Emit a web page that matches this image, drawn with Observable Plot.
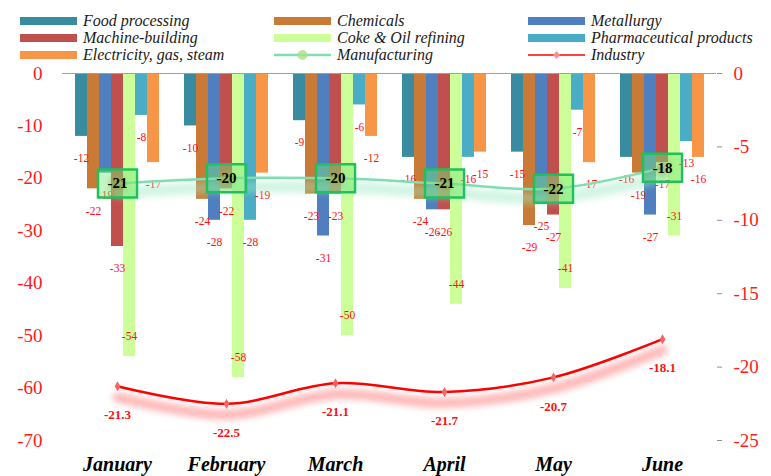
<!DOCTYPE html>
<html>
<head>
<meta charset="utf-8">
<script src="https://cdn.jsdelivr.net/npm/d3@7"></script>
<script src="https://cdn.jsdelivr.net/npm/@observablehq/plot@0.6"></script>
<style>
  body { margin: 0; background: #fff; }
  #wrap { position: relative; width: 771px; height: 476px; background: #fff; overflow: hidden; }
  .layer { position: absolute; left: 0; top: 62px; }
  .lg { position: absolute; height: 17px; display: flex; align-items: center; font-family: "Liberation Serif", serif; font-style: italic; font-size: 16px; color: #1a1a1a; white-space: nowrap; }
  .sw { width: 57px; height: 8px; margin-right: 6px; flex: none; }
</style>
</head>
<body>
<div id="wrap">
  <div id="legend"></div>
  <div id="p1" class="layer"></div>
  <div id="p2" class="layer"></div>
  <div id="p3" class="layer"></div>
</div>
<script>
// ---- data ----
const months = ["January", "February", "March", "April", "May", "June"];
const sectors = ["Food processing", "Chemicals", "Metallurgy", "Machine-building",
                 "Coke & Oil refining", "Pharmaceutical products", "Electricity, gas, steam"];
const sectorColors = ["#398ba0", "#c97a36", "#4f7fbf", "#c0504d", "#ccff99", "#4bacc6", "#f79646"];

const foodProcessing   = [-12, -10, -9, -16, -15, -16];
const chemicals        = [-22, -24, -23, -24, -29, -19];
const metallurgy       = [-19, -28, -31, -26, -25, -27];
const machineBuilding  = [-33, -22, -23, -26, -27, -17];
const cokeOilRefining  = [-54, -58, -50, -44, -41, -31];
const pharmaceutical   = [-8, -28, -6, -16, -7, -13];
const electricity      = [-17, -19, -12, -15, -17, -16];

const manufacturing = [-21, -20, -20, -21, -22, -18];
const industry      = [-21.3, -22.5, -21.1, -21.7, -20.7, -18.1];

const leftTicks  = [0, -10, -20, -30, -40, -50, -60, -70];
const rightTicks = [0, -5, -10, -15, -20, -25];

// ---- tables built from the arrays ----
const seriesValues = [foodProcessing, chemicals, metallurgy, machineBuilding, cokeOilRefining, pharmaceutical, electricity];
const rows = months.flatMap((m, i) => sectors.map((s, j) => ({month: m, sector: s, value: seriesValues[j][i]})));
const manuRows = months.map((m, i) => ({month: m, value: manufacturing[i]}));
const indRows = months.map((m, i) => ({month: m, value: industry[i]}));

// ---- shared layout ----
const W = 771, H = 414, ML = 62, MR = 55, MT = 11, MB = 36;
const padIn = 0.193, padOut = 0.0965;
const base = {width: W, height: H, marginLeft: ML, marginRight: MR, marginTop: MT, marginBottom: MB};
const serif = "'Liberation Serif', 'Times New Roman', serif";
const axisGray = "#a0a0a0";
const axisRed = "#ff1a1a";
const plain = d => String(d);

// Layer 1: bars, faceted by month
const p1 = Plot.plot({
  ...base,
  style: {fontFamily: serif, fontSize: "20px", fontWeight: "bold", fontStyle: "italic", color: "#000", background: "transparent", overflow: "visible"},
  fx: {domain: months, paddingInner: padIn, paddingOuter: padOut, axis: "bottom", label: null, tickSize: 0, tickPadding: 16},
  x: {domain: sectors, padding: 0, axis: null},
  y: {domain: [-70, 0], axis: null},
  color: {domain: sectors, range: sectorColors},
  marks: [
    Plot.barY(rows, {fx: "month", x: "sector", y: "value", fill: "sector"}),
    Plot.text(rows.filter(d => d.sector !== "Coke & Oil refining"), {
      fx: "month", x: "sector", y: "value", text: d => String(d.value), dy: 22,
      fill: "#ff1010", fontSize: 11.5, fontWeight: "normal", fontStyle: "normal"}),
    Plot.text(rows.filter(d => d.sector === "Coke & Oil refining"), {
      fx: "month", x: "sector", y: "value", text: d => String(d.value), dy: -20,
      fill: "#ff1010", fontSize: 11.5, fontWeight: "normal", fontStyle: "normal"})
  ]
});
document.getElementById("p1").appendChild(p1);

// custom rectangle symbol for the manufacturing label boxes
const boxSymbol = {draw(ctx) { ctx.moveTo(-19.5, -14); ctx.lineTo(19.5, -14); ctx.lineTo(19.5, 14); ctx.lineTo(-19.5, 14); ctx.closePath(); }};

// Layer 2: left axis + manufacturing line
const p2 = Plot.plot({
  ...base,
  style: {fontFamily: serif, fontSize: "19px", background: "transparent", overflow: "visible"},
  x: {type: "band", domain: months, paddingInner: padIn, paddingOuter: padOut, axis: null},
  y: {domain: [-70, 0], axis: null},
  marks: [
    Plot.axisY(leftTicks, {anchor: "left", tickSize: 0, tickFormat: () => "", color: axisGray, line: true, label: null}),
    Plot.axisY(leftTicks, {anchor: "left", tickSize: 0, tickPadding: 20, tickFormat: plain, color: axisRed, label: null}),
    Plot.ruleY([0], {stroke: axisGray, strokeWidth: 1.2}),
    Plot.line(manuRows, {x: "month", y: "value", curve: "catmull-rom", stroke: "#9be8c4", strokeWidth: 12, strokeOpacity: 0.45, dy: 9, ariaDescription: "glow"}),
    Plot.line(manuRows, {x: "month", y: "value", curve: "catmull-rom", stroke: "#7fdeb2", strokeWidth: 2.5}),
    Plot.dot(manuRows, {x: "month", y: "value", symbol: boxSymbol, r: 5, fill: "#7de87d", fillOpacity: 0.45, stroke: "#1fc25a", strokeWidth: 2.5}),
    Plot.dot(manuRows, {x: "month", y: "value", r: 7, fill: "#8fae4a", fillOpacity: 0.75, ariaDescription: "glow"}),
    Plot.text(manuRows, {x: "month", y: "value", text: d => String(d.value), fill: "#000", fontSize: 15, fontWeight: "bold"})
  ]
});
document.getElementById("p2").appendChild(p2);

// Layer 3: right axis + industry line
const p3 = Plot.plot({
  ...base,
  style: {fontFamily: serif, fontSize: "19px", background: "transparent", overflow: "visible"},
  x: {type: "band", domain: months, paddingInner: padIn, paddingOuter: padOut, axis: null},
  y: {domain: [-25, 0], axis: null},
  marks: [
    Plot.axisY(rightTicks, {anchor: "right", tickSize: 5, tickFormat: () => "", color: "#909090", line: true, label: null}),
    Plot.axisY(rightTicks, {anchor: "right", tickSize: 0, tickPadding: 17, tickFormat: plain, color: axisRed, label: null}),
    Plot.line(indRows, {x: "month", y: "value", curve: "catmull-rom", stroke: "#ff7070", strokeWidth: 10, strokeOpacity: 0.5, dy: 11, ariaDescription: "glow"}),
    Plot.line(indRows, {x: "month", y: "value", curve: "catmull-rom", stroke: "#ff0000", strokeWidth: 2.5}),
    Plot.dot(indRows, {x: "month", y: "value", symbol: "diamond", r: 3, fill: "#ff6060"}),
    Plot.text(indRows, {x: "month", y: "value", text: d => d.value.toFixed(1), dy: 29, fill: "#ff1010", fontSize: 13, fontWeight: "bold"})
  ]
});
document.getElementById("p3").appendChild(p3);

// soft blur on glow marks
document.querySelectorAll('[aria-description="glow"]').forEach(g => g.style.filter = "blur(3px)");

// ---- legend ----
const legendItems = sectors.map((s, i) => ({name: s, kind: "bar", color: sectorColors[i]}))
  .concat([{name: "Manufacturing", kind: "manu"}, {name: "Industry", kind: "ind"}]);
const colX = [20, 274, 528], rowY = [12, 29, 46];
const lg = document.getElementById("legend");
legendItems.forEach((it, k) => {
  const d = document.createElement("div");
  d.className = "lg";
  d.style.left = colX[k % 3] + "px";
  d.style.top = rowY[Math.floor(k / 3)] + "px";
  let sw;
  if (it.kind === "bar") {
    sw = `<div class="sw" style="background:${it.color}"></div>`;
  } else if (it.kind === "manu") {
    sw = `<svg class="sw" width="57" height="14" style="height:14px"><line x1="0" y1="7" x2="57" y2="7" stroke="#7fdeb2" stroke-width="2.5"/><circle cx="28.5" cy="7" r="5" fill="#a9e08a" opacity="0.8"/></svg>`;
  } else {
    sw = `<svg class="sw" width="57" height="14" style="height:14px"><line x1="0" y1="7" x2="57" y2="7" stroke="#ff4040" stroke-width="2"/><path d="M28.5,3 L32,7 L28.5,11 L25,7Z" fill="#ff9090"/></svg>`;
  }
  d.innerHTML = sw + `<span>${it.name}</span>`;
  lg.appendChild(d);
});
</script>
</body>
</html>
